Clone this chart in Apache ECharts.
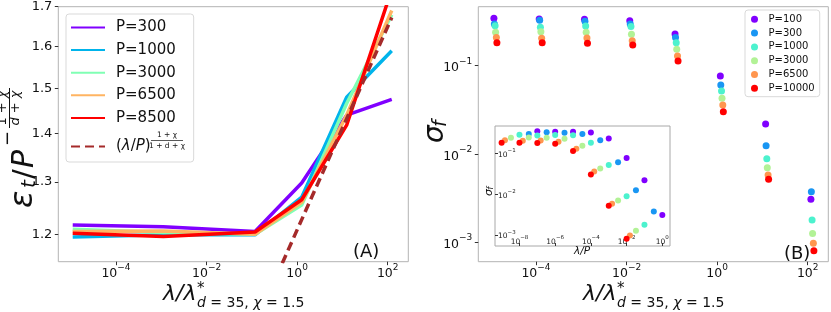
<!DOCTYPE html>
<html><head><meta charset="utf-8">
<script src="https://cdn.jsdelivr.net/npm/echarts@6/dist/echarts.min.js"></script>
<style>
body{margin:0;background:#fff}
#a{position:absolute;left:0;top:0;width:420px;height:312px}
#b{position:absolute;left:420px;top:0;width:411px;height:312px}
</style>
</head><body><div id="a"></div><div id="b"></div>
<script>
const FONT = 'DejaVu Sans';
// ---------- Panel A data ----------
const lamA = [1.107e-5, 1.11e-3, 0.1175, 1.26, 12.4, 122.8];
const namesA = ['P=300', 'P=1000', 'P=3000', 'P=6500', 'P=8500'];
const colorsA = ['#8000ff', '#00b4eb', '#80ffb4', '#ffb462', '#ff0000'];
const errP300 = [1.217, 1.214, 1.205, 1.298, 1.440, 1.475];
const errP1000 = [1.195, 1.199, 1.199, 1.270, 1.480, 1.589];
const errP3000 = [1.209, 1.203, 1.200, 1.255, 1.466, 1.679];
const errP6500 = [1.205, 1.206, 1.200, 1.260, 1.440, 1.690];
const errP8500 = [1.202, 1.196, 1.204, 1.265, 1.418, 1.745];
const errA = [errP300, errP1000, errP3000, errP6500, errP8500];
const fitLam = [0.47, 123];
const fitVal = [1.148, 1.672];
const ticksAy = [1.2, 1.3, 1.4, 1.5, 1.6, 1.7];
const ticksX = [1e-4, 1e-2, 1, 100];

// ---------- Panel B data ----------
const namesB = ['P=100', 'P=300', 'P=1000', 'P=3000', 'P=6500', 'P=10000'];
const PB = [100, 300, 1000, 3000, 6500, 10000];
const colorsB = ['#8000ff', '#1996f3', '#4cf2ce', '#b2f296', '#ff964f', '#ff0000'];
const lamRaw = [1e-5, 1e-4, 1e-3, 1e-2, 1e-1, 1, 10, 100];
const lamStar = [0.85, 0.83, 0.80, 0.78, 0.75, 0.73];
const sigP100 = [0.344, 0.338, 0.335, 0.323, 0.229, 0.0764, 0.0219, 0.00307];
const sigP300 = [0.297, 0.327, 0.318, 0.297, 0.208, 0.0604, 0.0124, 0.00374];
const sigP1000 = [0.284, 0.272, 0.282, 0.277, 0.182, 0.0516, 0.00885, 0.00179];
const sigP3000 = [0.239, 0.243, 0.239, 0.227, 0.154, 0.0427, 0.0070, 0.00126];
const sigP6500 = [0.208, 0.204, 0.206, 0.192, 0.129, 0.0359, 0.00578, 0.000975];
const sigP10000 = [0.182, 0.182, 0.179, 0.171, 0.113, 0.0301, 0.00517, 0.000803];
const sigB = [sigP100, sigP300, sigP1000, sigP3000, sigP6500, sigP10000];
const ticksBy = [1e-3, 1e-2, 1e-1];
const ticksInsetX = [1e-8, 1e-6, 1e-4, 1e-2, 1];

// ---------- helpers ----------
function powLabel(v) {
  const e = Math.round(Math.log10(v));
  return '{b|10}{s|' + (e < 0 ? '\u2212' + (-e) : '' + e) + '}';
}
const richMain = {
  b: {fontSize: 12.5, lineHeight: 18, verticalAlign: 'bottom', fontFamily: FONT, color: '#111'},
  s: {fontSize: 9, lineHeight: 9, verticalAlign: 'top', fontFamily: FONT, color: '#111'}
};
const richInset = {
  b: {fontSize: 7.5, lineHeight: 11, verticalAlign: 'bottom', fontFamily: FONT, color: '#222'},
  s: {fontSize: 5.5, lineHeight: 6, verticalAlign: 'top', fontFamily: FONT, color: '#222'}
};
const tickStyle = {color: '#333', width: 1};
function txt(x, y, text, size, opts) {
  return Object.assign({type: 'text', x: x, y: y, z: 100, style: Object.assign({
    text: text, fontSize: size, fontFamily: FONT, fill: '#111',
    textAlign: 'left', textVerticalAlign: 'middle', align: 'left', verticalAlign: 'middle'
  }, opts || {})});
}
function rt(x, y, text, size, opts) {
  return {type: 'text', x: x, y: y, style: Object.assign({
    text: text, fontSize: size, fontFamily: FONT, fill: '#111',
    textAlign: 'left', align: 'left', textVerticalAlign: 'middle', verticalAlign: 'middle'
  }, opts || {})};
}
function xName() {
  return [
    txt(163, 294, 'λ/λ', 22, {fontStyle: 'italic'}),
    txt(197, 289, '*', 15),
    txt(197, 303, '{i|d} = 35, {i|χ} = 1.5', 14, {rich: {i: {fontStyle: 'italic', fontSize: 14, fontFamily: FONT}}})
  ];
}
const noSym = {color: 'rgba(0,0,0,0)', borderColor: 'rgba(0,0,0,0)', borderWidth: 0};
const itRich = {i: {fontSize: 13, fontFamily: FONT, fontStyle: 'italic'}};

// ---------- Chart A ----------
const chartA = echarts.init(document.getElementById('a'));
const seriesA = namesA.map((n, i) => ({
  name: n, type: 'line', symbol: 'none', showSymbol: false, clip: true, z: 2 + i,
  data: lamA.map((x, j) => [x, errA[i][j]]),
  lineStyle: {width: 3.5, color: colorsA[i]}, itemStyle: {color: colorsA[i]}
}));
seriesA.push({
  name: '(λ/P)', type: 'line', symbol: 'none', showSymbol: false, clip: true, z: 10,
  data: fitLam.map((x, j) => [x, fitVal[j]]),
  lineStyle: {width: 3.5, type: [9, 5], color: '#a52a2a'}, itemStyle: {color: '#a52a2a'}
});
chartA.setOption({
  animation: false,
  grid: {left: 58.3, top: 6.7, width: 350, height: 255, show: true, borderColor: '#b3b3b3', borderWidth: 1},
  xAxis: {
    type: 'log', min: 5.32e-6, max: 285, axisLine: {show: false}, splitLine: {show: false},
    axisTick: {show: true, length: 3.5, lineStyle: tickStyle, customValues: ticksX},
    axisLabel: {customValues: ticksX, formatter: powLabel, rich: richMain, margin: 1}
  },
  yAxis: {
    type: 'log', min: 1.1506, max: 1.7, axisLine: {show: false}, splitLine: {show: false},
    axisTick: {show: true, length: 3.5, lineStyle: tickStyle, customValues: ticksAy},
    axisLabel: {customValues: ticksAy, formatter: v => v.toFixed(1), fontSize: 13, fontFamily: FONT, color: '#111', margin: 6}
  },
  legend: {
    orient: 'vertical', left: 66, top: 14, padding: [6, 8, 2, 4], itemWidth: 34, itemHeight: 14, itemGap: 7.6,
    backgroundColor: 'rgba(255,255,255,0.8)', borderColor: '#d9d9d9', borderWidth: 1, borderRadius: 3,
    itemStyle: noSym,
    textStyle: {fontSize: 15, fontFamily: FONT, color: '#111', lineHeight: 15, padding: [0, 0, 0, 6],
      rich: {p: {fontSize: 15, fontFamily: FONT, color: '#111', lineHeight: 27},
             i: {fontSize: 15, fontFamily: FONT, fontStyle: 'italic', color: '#111', lineHeight: 27},
             sp: {width: 35, lineHeight: 27}}},
    formatter: n => n === '(λ/P)' ? '{p|(}{i|λ}{p|/}{i|P}{p|)}{sp| }' : n,
    data: namesA.concat(['(λ/P)'])
  },
  graphic: [
    txt(167, 135.5, '1 + χ', 7.5, {textAlign: 'center', align: 'center'}),
    {type: 'line', z: 100, shape: {x1: 151, y1: 140.5, x2: 183, y2: 140.5}, style: {stroke: '#111', lineWidth: 0.7}},
    txt(167, 146, '1 + d + χ', 7.5, {textAlign: 'center', align: 'center'}),
    txt(353, 252, '(A)', 18),
    {type: 'group', x: 0, y: 208, rotation: Math.PI / 2, z: 100, children: [
      rt(0, 24, 'ε', 32, {fontStyle: 'italic'}),
      rt(20, 30, 't', 20, {fontStyle: 'italic'}),
      rt(29, 25, '/', 29),
      rt(40, 25, 'P', 30, {fontStyle: 'italic'}),
      rt(62, 8, '−', 18),
      rt(100, 3, '1 + {i|χ}', 13, {textAlign: 'center', align: 'center', rich: itRich}),
      {type: 'line', shape: {x1: 80, y1: 9.5, x2: 120, y2: 9.5}, style: {stroke: '#111', lineWidth: 1}},
      rt(100, 16, '{i|d} + {i|χ}', 13, {textAlign: 'center', align: 'center', rich: itRich})
    ]}
  ].concat(xName()),
  series: seriesA
});

// ---------- Chart B ----------
const chartB = echarts.init(document.getElementById('b'));
const seriesB = [];
namesB.forEach((n, i) => {
  seriesB.push({
    name: n, type: 'scatter', xAxisIndex: 0, yAxisIndex: 0, symbolSize: 7, z: 2 + i,
    data: lamRaw.map((l, j) => [l / lamStar[i], sigB[i][j]]),
    itemStyle: {color: colorsB[i], opacity: 1}
  });
});
namesB.forEach((n, i) => {
  seriesB.push({
    name: n, type: 'scatter', xAxisIndex: 1, yAxisIndex: 1, symbolSize: 6, z: 12 + i,
    data: lamRaw.map((l, j) => [l / PB[i], sigB[i][j]]),
    itemStyle: {color: colorsB[i], opacity: 1}
  });
});
chartB.setOption({
  animation: false,
  grid: [
    {left: 58.3, top: 6.7, width: 350, height: 255, show: true, borderColor: '#b3b3b3', borderWidth: 1},
    {left: 75, top: 126, width: 175, height: 120, show: true, borderColor: '#a8a8a8', borderWidth: 1, backgroundColor: '#fff', z: 5}
  ],
  xAxis: [
    {type: 'log', gridIndex: 0, min: 5.32e-6, max: 285, axisLine: {show: false}, splitLine: {show: false},
     axisTick: {show: true, length: 3.5, lineStyle: tickStyle, customValues: ticksX},
     axisLabel: {customValues: ticksX, formatter: powLabel, rich: richMain, margin: 1}},
    {type: 'log', gridIndex: 1, min: 4.27e-10, max: 2.69, axisLine: {show: false}, splitLine: {show: false}, z: 6,
     axisTick: {show: true, inside: true, length: 3, lineStyle: tickStyle, customValues: ticksInsetX},
     axisLabel: {inside: true, customValues: ticksInsetX, formatter: powLabel, rich: richInset, margin: 0}}
  ],
  yAxis: [
    {type: 'log', gridIndex: 0, min: 6.03e-4, max: 0.4656, axisLine: {show: false}, splitLine: {show: false},
     axisTick: {show: true, length: 3.5, lineStyle: tickStyle, customValues: ticksBy},
     axisLabel: {customValues: ticksBy, formatter: powLabel, rich: richMain, margin: 6}},
    {type: 'log', gridIndex: 1, min: 5.37e-4, max: 0.4656, axisLine: {show: false}, splitLine: {show: false}, z: 6,
     axisTick: {show: true, inside: true, length: 3, lineStyle: tickStyle, customValues: ticksBy},
     axisLabel: {inside: true, customValues: ticksBy, formatter: powLabel, rich: richInset, margin: 3}}
  ],
  legend: {
    orient: 'vertical', left: 325, top: 10, padding: [4.3, 5, 3.4, 6], itemWidth: 18, itemHeight: 7, itemGap: 3.8,
    icon: 'circle', backgroundColor: 'rgba(255,255,255,0.8)', borderColor: '#d9d9d9', borderWidth: 1, borderRadius: 3,
    textStyle: {fontSize: 10, fontFamily: FONT, color: '#111', lineHeight: 10},
    data: namesB
  },
  graphic: [
    txt(364, 254, '(B)', 18),
    {type: 'group', x: 0, y: 143, rotation: Math.PI / 2, z: 100, children: [
      rt(0, 16, 'σ', 28, {fontStyle: 'italic'}),
      rt(16, 21, 'f', 19, {fontStyle: 'italic'})
    ]},
    {type: 'group', x: 0, y: 196, rotation: Math.PI / 2, z: 100, children: [
      rt(0, 69, 'σ', 11, {fontStyle: 'italic'}),
      rt(6.5, 71, 'f', 8, {fontStyle: 'italic'})
    ]},
    txt(162, 251, 'λ/P', 10.5, {fontStyle: 'italic', textAlign: 'center', align: 'center'})
  ].concat(xName()),
  series: seriesB
});
</script>
</body></html>
